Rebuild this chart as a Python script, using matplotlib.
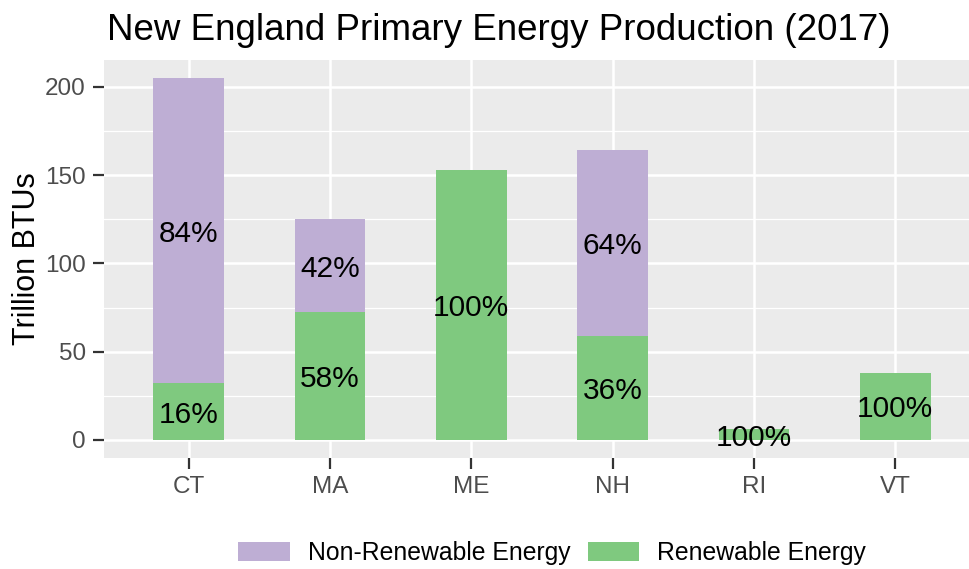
import matplotlib
matplotlib.use("Agg")
import matplotlib.pyplot as plt
import numpy as np
from matplotlib.patches import Patch

states = ["CT", "MA", "ME", "NH", "RI", "VT"]
renewable = [32, 72.5, 153, 59, 6, 38]
non_renewable = [173, 52.5, 0, 105, 0, 0]
renew_labels = ["16%", "58%", "100%", "36%", "100%", "100%"]
nonrenew_labels = ["84%", "42%", "", "64%", "", ""]
yticks = [0, 50, 100, 150, 200]
title = "New England Primary Energy Production (2017)"
ylabel = "Trillion BTUs"
legend_labels = ["Non-Renewable Energy", "Renewable Energy"]

green = "#7FC97F"
purple = "#BEAED4"

plt.rcParams['font.family'] = ['Liberation Sans', 'DejaVu Sans']

fig = plt.figure(figsize=(9.69, 5.69), dpi=100)
W, H = 969, 569
left, right, top, bottom = 104, 980, 60, 458
ax = fig.add_axes([left / W, 1 - bottom / H, (right - left) / W, (bottom - top) / H])
ax.set_facecolor("#EBEBEB")

x = np.arange(len(states))
ax.bar(x, renewable, width=0.5, color=green, zorder=3)
ax.bar(x, non_renewable, width=0.5, bottom=renewable, color=purple, zorder=3)

for i in range(len(states)):
    if renew_labels[i]:
        ax.text(x[i], renewable[i] / 2, renew_labels[i], ha="center", va="center_baseline",
                fontsize=21.5, color="black", zorder=4)
    if nonrenew_labels[i]:
        ax.text(x[i], renewable[i] + non_renewable[i] / 2, nonrenew_labels[i],
                ha="center", va="center_baseline", fontsize=21.5, color="black", zorder=4)

totals = np.array(renewable) + np.array(non_renewable)
ymax = totals.max()
ax.set_ylim(-0.05 * ymax, ymax * 1.05)
ax.set_xlim(-0.6, len(states) - 1 + 0.6)

ax.set_yticks(yticks)
ax.set_yticks([25, 75, 125, 175], minor=True)
ax.set_xticks(x)
ax.set_xticklabels(states)
ax.grid(which="major", color="white", linewidth=1.8, zorder=0)
ax.grid(which="minor", axis="y", color="white", linewidth=0.9, zorder=0)
ax.set_axisbelow(True)
for s in ax.spines.values():
    s.set_visible(False)
ax.tick_params(axis="both", which="major", length=8, width=1.6, color="#333333",
               labelsize=17.5, labelcolor="#4D4D4D", pad=5)
ax.tick_params(axis="both", which="minor", length=0)

ax.set_ylabel(ylabel, fontsize=22, color="black", labelpad=2)
fig.text(107 / W, 1 - 30 / H, title, fontsize=26.5, ha="left", va="center", color="black")

handles = [Patch(facecolor=purple, edgecolor="none"), Patch(facecolor=green, edgecolor="none")]
fig.legend(handles, legend_labels, loc="center", bbox_to_anchor=(552 / W, 1 - 553 / H),
           ncol=2, frameon=False, fontsize=17.8, handlelength=2.1, handleheight=0.8,
           columnspacing=0.7, handletextpad=0.7)

fig.savefig("out.png", dpi=100)
